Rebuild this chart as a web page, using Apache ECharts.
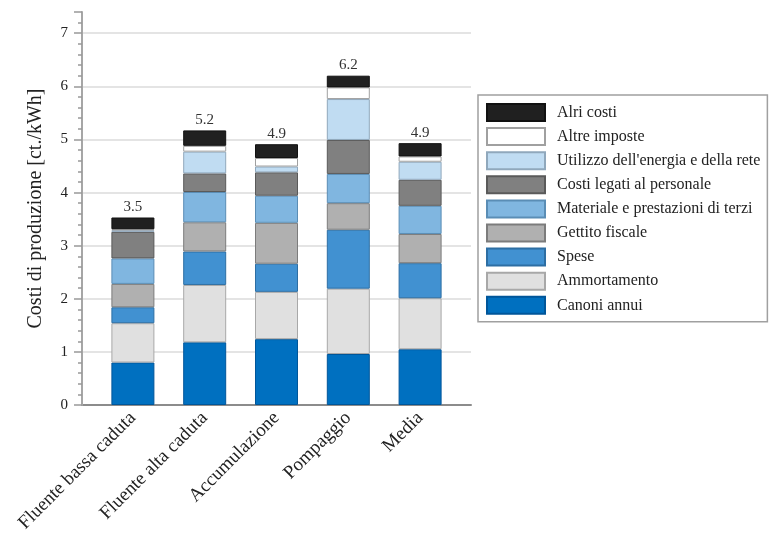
<!DOCTYPE html>
<html>
<head>
<meta charset="utf-8">
<script src="https://cdn.jsdelivr.net/npm/echarts@6/dist/echarts.min.js"></script>
<style>html,body{margin:0;padding:0;background:#fff}#c{width:770px;height:537px}</style>
</head>
<body>
<div id="c"></div>
<script>
var categories = ['Fluente bassa caduta', 'Fluente alta caduta', 'Accumulazione', 'Pompaggio', 'Media'];
var canoniAnnui = [0.80, 1.18, 1.24, 0.96, 1.05];
var ammortamento = [0.74, 1.08, 0.89, 1.23, 0.96];
var spese = [0.30, 0.63, 0.53, 1.11, 0.66];
var gettitoFiscale = [0.44, 0.55, 0.77, 0.50, 0.55];
var materiale = [0.48, 0.57, 0.51, 0.55, 0.53];
var personale = [0.50, 0.35, 0.44, 0.64, 0.49];
var utilizzo = [0.03, 0.41, 0.11, 0.77, 0.34];
var altreImposte = [0.02, 0.11, 0.16, 0.22, 0.10];
var altriCosti = [0.22, 0.29, 0.26, 0.22, 0.25];
var totals = ['3.5', '5.2', '4.9', '6.2', '4.9'];
var yTicks = [0, 1, 2, 3, 4, 5, 6, 7];

var FONT = 'Liberation Serif';
var stackDefs = [
  {name: 'Canoni annui', data: canoniAnnui, color: '#0070c0', border: '#00569a'},
  {name: 'Ammortamento', data: ammortamento, color: '#e0e0e0', border: '#a8a8a8'},
  {name: 'Spese', data: spese, color: '#4191d1', border: '#2d6ea3'},
  {name: 'Gettito fiscale', data: gettitoFiscale, color: '#b0b0b0', border: '#7c7c7c'},
  {name: 'Materiale e prestazioni di terzi', data: materiale, color: '#80b6e0', border: '#5a8db5'},
  {name: 'Costi legati al personale', data: personale, color: '#808080', border: '#5a5a5a'},
  {name: "Utilizzo dell'energia e della rete", data: utilizzo, color: '#c0dcf2', border: '#90a8bc'},
  {name: 'Altre imposte', data: altreImposte, color: '#ffffff', border: '#a0a0a0'},
  {name: 'Alri costi', data: altriCosti, color: '#202020', border: '#111111'}
];

var series = stackDefs.map(function (d, i) {
  var s = {
    name: d.name, type: 'bar', stack: 'tot', xAxisIndex: 2, yAxisIndex: 2,
    barWidth: 43, data: d.data,
    itemStyle: {color: d.color, borderColor: d.border, borderWidth: 1},
    emphasis: {disabled: true}
  };
  if (i === stackDefs.length - 1) {
    s.label = {
      show: true, position: 'top', distance: 3,
      fontFamily: FONT, fontSize: 15, color: '#333',
      formatter: function (p) { return totals[p.dataIndex]; }
    };
  }
  return s;
});

var legendNames = stackDefs.map(function (d) { return d.name; }).reverse();

var chart = echarts.init(document.getElementById('c'), null, {renderer: 'canvas'});
chart.setOption({
  animation: false,
  backgroundColor: '#fff',
  grid: [
    {left: 82, right: 299, top: 12, bottom: 132},
    {left: 82, right: 299, top: 33.2, bottom: 132},
    {left: 97, right: 314, top: 33.2, bottom: 132}
  ],
  xAxis: [
    {gridIndex: 0, type: 'value', min: 0, max: 1,
      axisLine: {show: true, lineStyle: {color: '#8c8c8c', width: 2}},
      axisTick: {show: false}, axisLabel: {show: false}, splitLine: {show: false}},
    {gridIndex: 1, type: 'value', min: 0, max: 1, show: false},
    {gridIndex: 2, type: 'category', data: categories,
      axisLine: {show: false}, axisTick: {show: false},
      axisLabel: {rotate: 45, margin: 10, fontFamily: FONT, fontSize: 19, color: '#222'}}
  ],
  yAxis: [
    {gridIndex: 0, type: 'value', min: 0, max: 7.4, interval: 1, z: 5,
      name: 'Costi di produzione [ct./kWh]', nameLocation: 'middle', nameGap: 36,
      nameTextStyle: {fontFamily: FONT, fontSize: 20, color: '#222'},
      axisLine: {show: true, lineStyle: {color: '#a6a6a6', width: 2}},
      axisTick: {show: true, inside: false, length: 8, lineStyle: {color: '#999', width: 1.5}},
      minorTick: {show: true, splitNumber: 5, length: 4, lineStyle: {color: '#999', width: 1.5}},
      axisLabel: {margin: 14, fontFamily: FONT, fontSize: 15, color: '#222',
        formatter: function (v) { return yTicks.indexOf(v) >= 0 ? String(v) : ''; }},
      splitLine: {show: false}},
    {gridIndex: 1, type: 'value', min: 0, max: 7, interval: 1, z: 0,
      axisLine: {show: false}, axisTick: {show: false}, axisLabel: {show: false},
      splitLine: {show: true, lineStyle: {color: '#e4e4e4', width: 2}}},
    {gridIndex: 2, type: 'value', min: 0, max: 7, interval: 1, show: false}
  ],
  legend: {
    orient: 'vertical', left: 478, top: 95,
    data: legendNames, selectedMode: false,
    icon: 'rect', itemWidth: 58, itemHeight: 17, itemGap: 5.1,
    padding: [8, 7, 7, 8],
    borderColor: '#a0a0a0', borderWidth: 1.5, backgroundColor: '#fff',
    textStyle: {fontFamily: FONT, fontSize: 16, color: '#222', padding: [0, 0, 0, 7]}
  },
  series: series
});
</script>
</body>
</html>
